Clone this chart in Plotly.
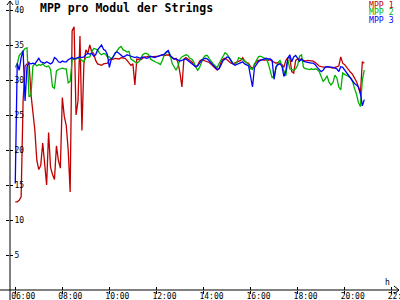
import plotly.graph_objects as go

# ---------------- data ----------------
start_hour = 6.0          # first sample 06:00
step_minutes = 5          # sampling interval

mpp1 = [12.6, 12.6, 12.8, 13.3, 27.0, 32.0, 32.3, 32.6, 28.0, 25.3,
        22.8, 18.5, 17.2, 17.8, 21.0, 18.0, 15.0, 22.5, 17.5, 16.5,
        15.8, 20.6, 18.5, 17.4, 27.5, 24.8, 23.5, 20.0, 14.0, 37.0,
        37.6, 25.0, 27.0, 36.3, 22.8, 32.3, 34.3, 33.8, 35.0, 34.0,
        33.8, 32.8, 32.3, 32.2, 32.1, 32.3, 32.4, 32.4, 32.9, 32.9,
        33.0, 33.1, 33.0, 33.0, 33.2, 33.2, 33.1, 32.8, 32.5, 32.1,
        32.3, 29.3, 33.0, 33.0, 32.9, 33.1, 33.3, 33.3, 33.4, 33.3,
        33.3, 33.4, 33.3, 33.4, 33.5, 33.6, 33.5, 33.6, 33.6, 33.4,
        33.2, 33.0, 33.1, 32.5, 31.0, 29.0, 33.0, 33.2, 33.0, 32.8,
        32.6, 32.2, 31.9, 32.1, 32.7, 32.9, 32.8, 32.7, 32.6, 32.5,
        32.2, 31.9, 31.6, 31.4, 31.7, 32.6, 33.0, 33.1, 32.9, 32.6,
        32.4, 32.3, 32.4, 32.5, 32.6, 32.8, 33.2, 32.7, 32.5, 32.4,
        31.9, 31.6, 32.2, 32.6, 32.8, 32.9, 32.9, 32.8, 32.9, 32.8,
        32.9, 32.7, 32.5, 32.4, 32.5, 32.4, 32.2, 31.8, 32.8, 33.2,
        33.2, 31.2, 31.0, 32.8, 33.0, 33.0, 32.9, 32.8, 32.7, 32.8,
        32.8, 32.7, 32.7, 32.5, 32.2, 32.0, 31.9, 31.8, 31.8, 31.9,
        31.8, 31.8, 31.7, 31.8, 31.9, 32.0, 33.3, 32.4, 32.2, 31.8,
        31.4, 31.1, 30.8, 30.3, 29.8, 29.0, 28.0, 32.6, 32.4]

mpp2 = [31.8, 32.3, 33.5, 33.8, 34.2, 34.5, 34.6, 27.6, 27.8, 32.0,
        32.3, 32.0, 32.2, 32.1, 32.3, 32.0, 31.9, 32.0, 31.5, 29.0,
        28.8, 31.3, 31.5, 31.6, 31.7, 31.6, 31.6, 29.6, 29.8, 32.8,
        33.1, 33.0, 33.2, 33.0, 32.8, 32.6, 33.2, 33.3, 33.3, 34.0,
        34.5, 34.4, 34.3, 33.8, 33.6, 33.8, 33.7, 33.3, 33.3, 33.0,
        33.4, 33.7, 34.2, 34.6, 34.8, 34.3, 34.2, 34.0, 34.1, 33.0,
        32.8, 32.6, 32.4, 32.6, 33.2, 33.6, 33.8, 33.8, 33.6, 33.0,
        32.8, 32.6, 32.5, 32.4, 32.2, 32.8, 33.6, 33.9, 34.1, 33.6,
        32.4, 31.9, 31.4, 32.0, 33.0, 33.3, 33.5, 33.6, 33.5, 33.1,
        33.0, 32.6, 31.9, 31.4, 31.8, 32.6, 33.2, 33.5, 33.5, 33.0,
        32.6, 32.3, 32.0, 31.8, 32.4, 32.9, 33.6, 33.9, 33.7, 33.2,
        32.8, 32.4, 32.2, 32.5, 33.2, 33.1, 32.9, 32.7, 32.5, 32.2,
        31.6, 31.5, 32.3, 32.8, 33.3, 33.4, 33.3, 33.1, 33.0, 32.4,
        31.4, 30.3, 30.6, 31.8, 32.5, 32.8, 32.0, 31.4, 30.6, 32.9,
        31.6, 31.5, 31.4, 31.6, 32.1, 33.4, 33.6, 31.8, 31.6, 31.6,
        31.5, 31.6, 31.5, 31.6, 31.5, 31.2, 30.4, 29.8, 30.1, 30.6,
        29.7, 29.3, 29.6, 30.7, 30.3, 29.0, 28.6, 31.0, 30.8, 30.7,
        30.5, 30.3, 29.8, 28.8, 28.0, 26.8, 26.2, 30.0, 31.4]

mpp3 = [15.2, 32.4, 31.4, 33.2, 34.2, 27.0, 31.9, 32.4, 32.3, 32.4,
        32.3, 32.8, 33.1, 32.6, 32.5, 32.4, 32.6, 32.5, 32.3, 32.5,
        33.2, 33.0, 32.6, 32.5, 32.7, 32.6, 32.6, 32.9, 33.1, 33.2,
        33.0, 33.1, 33.2, 33.3, 33.2, 33.3, 33.6, 33.8, 33.7, 33.8,
        33.4, 33.6, 34.3, 34.7, 35.0, 34.4, 34.2, 33.6, 31.8, 33.0,
        33.3, 33.9, 34.0, 33.8, 33.6, 33.3, 33.4, 33.6, 33.5, 33.4,
        33.3, 33.2, 33.3, 33.2, 33.1, 33.3, 33.2, 33.1, 33.2, 33.4,
        33.3, 33.2, 33.3, 33.4, 33.5, 33.6, 33.7, 34.0, 34.2, 33.5,
        33.2, 33.0, 33.0, 32.8, 32.7, 32.8, 32.9, 33.0, 32.8, 32.6,
        32.4, 32.2, 31.9, 32.0, 32.5, 32.8, 33.0, 33.1, 33.0, 32.7,
        32.4, 32.0, 31.7, 31.5, 31.6, 32.2, 32.8, 33.0, 33.3, 33.2,
        32.8, 32.3, 32.1, 32.2, 32.4, 32.5, 32.6, 32.3, 32.2, 32.0,
        30.5, 29.0, 31.8, 32.3, 32.6, 32.8, 32.9, 33.0, 33.1, 33.0,
        33.0, 32.8, 30.1, 31.9, 32.2, 32.3, 32.0, 30.5, 31.3, 33.1,
        33.6, 32.6, 33.3, 33.5, 33.0, 32.7, 33.0, 32.7, 32.6, 32.5,
        32.5, 32.4, 32.4, 32.2, 31.8, 31.5, 31.2, 31.4, 31.8, 31.9,
        31.9, 31.9, 31.8, 31.7, 31.6, 31.2, 31.9, 31.8, 31.4, 31.0,
        30.6, 30.3, 29.9, 29.5, 29.3, 29.0, 28.2, 26.3, 27.2]

series_names = ["MPP 1", "MPP 2", "MPP 3"]
series_colors = ["#c00000", "#00b000", "#0000ff"]
y_tick_values = [5, 10, 15, 20, 25, 30, 35, 40]
x_tick_hours = [6, 8, 10, 12, 14, 16, 18, 20, 22]
x_tick_labels = ["06:00", "08:00", "10:00", "12:00", "14:00",
                 "16:00", "18:00", "20:00", "22:00"]
title_text = "MPP pro Modul der Strings"
y_unit = "U"
x_unit = "h"

# ---------------- geometry ----------------
W, H = 400, 300
L, R, T, B = 10, 399, 2, 290           # plot area in pixels
px_per_hour = 23.53
hour_at_px = lambda px: 14 + (px - 203.5) / px_per_hour
x_range = [hour_at_px(L), hour_at_px(R)]
y_range = [0, (B - T) / 7.0]
px2paper_x = lambda px: (px - L) / (R - L)
py2paper_y = lambda py: (B - py) / (B - T)

FONT = "DejaVu Sans Mono"

times = [start_hour + i * step_minutes / 60.0 for i in range(len(mpp1))]

fig = go.Figure()
for name, vals, col in zip(series_names, [mpp1, mpp2, mpp3], series_colors):
    fig.add_trace(go.Scatter(x=times, y=vals, mode="lines", name=name,
                             line=dict(color=col, width=1.3),
                             showlegend=False, hoverinfo="skip"))
# dummy trace to carry the second (tick) axes
fig.add_trace(go.Scatter(x=[None], y=[None], xaxis="x2", yaxis="y2",
                         showlegend=False, hoverinfo="skip"))

axis_common = dict(showgrid=False, zeroline=False, showline=False,
                   tickcolor="black", tickwidth=1, ticklen=3,
                   automargin=False)

fig.update_layout(
    width=W, height=H,
    margin=dict(l=L, r=W - R, t=T, b=H - B, pad=0, autoexpand=False),
    paper_bgcolor="white", plot_bgcolor="white",
    showlegend=False,
    xaxis=dict(range=x_range, ticks="outside", tickvals=x_tick_hours,
               ticktext=x_tick_labels, ticklabelshift=8,
               ticklabelstandoff=-5,
               ticklabeloverflow="allow",
               tickfont=dict(family=FONT, size=8, color="black"),
               **axis_common),
    xaxis2=dict(range=x_range, overlaying="x", anchor="y", side="bottom",
                ticks="inside", tickvals=x_tick_hours, showticklabels=False,
                **axis_common),
    yaxis=dict(range=y_range, ticks="outside", tickvals=y_tick_values,
               showticklabels=False, **axis_common),
    yaxis2=dict(range=y_range, overlaying="y", anchor="x", side="left",
                ticks="inside", tickvals=y_tick_values,
                ticklabelposition="inside", ticklabeloverflow="allow",
                tickfont=dict(family=FONT, size=8, color="black"),
                **axis_common),
    title=dict(text="<b>" + title_text + "</b>", x=40 / W, xanchor="left",
               y=1 - 7.5 / H, yanchor="middle",
               font=dict(family=FONT, size=11.5, color="black")),
)

# axis lines (crossing at origin) and arrows
line_style = dict(color="black", width=1)
fig.add_shape(type="line", xref="paper", yref="paper",
              x0=px2paper_x(0), x1=1, y0=0, y1=0, line=line_style)
fig.add_shape(type="line", xref="paper", yref="paper",
              x0=0, x1=0, y0=py2paper_y(300), y1=py2paper_y(1), line=line_style)
fig.add_shape(type="path", xref="paper", yref="paper",
              xsizemode="pixel", ysizemode="pixel", xanchor=1, yanchor=0,
              path="M -5,4 L 0,0 L -5,-4", line=line_style)
fig.add_shape(type="path", xref="paper", yref="paper",
              xsizemode="pixel", ysizemode="pixel", xanchor=0,
              yanchor=py2paper_y(1),
              path="M -3,-4 L 0,0 L 3,-4", line=line_style)

# legend as coloured text
legend_y = [5, 12.3, 19.6]
for name, col, yy in zip(series_names, series_colors, legend_y):
    fig.add_annotation(text=name, xref="paper", yref="paper",
                       x=px2paper_x(395), y=py2paper_y(yy),
                       xanchor="right", yanchor="middle", showarrow=False,
                       font=dict(family=FONT, size=8.2, color=col), borderpad=0)

fig.add_annotation(text=y_unit, xref="paper", yref="paper",
                   x=px2paper_x(14), y=py2paper_y(3), xanchor="left",
                   yanchor="middle", showarrow=False, borderpad=0,
                   font=dict(family=FONT, size=6.5, color="black"))
fig.add_annotation(text=x_unit, xref="paper", yref="paper",
                   x=px2paper_x(387), y=py2paper_y(282), xanchor="center",
                   yanchor="middle", showarrow=False, borderpad=0,
                   font=dict(family=FONT, size=8, color="black"))

fig.write_html("out.html")
